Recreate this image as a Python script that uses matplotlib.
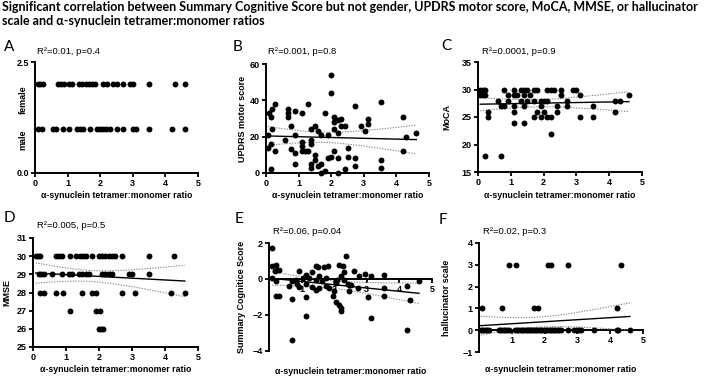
import numpy as np
import matplotlib

matplotlib.use("Agg")
import matplotlib.pyplot as plt

W, H = 705, 378
ARIAL = "Liberation Sans"
TITLE_FONT = ["Lato", "DejaVu Sans"]
XLABEL = "α-synuclein tetramer:monomer ratio"

plt.rcParams["font.family"] = [ARIAL, "DejaVu Sans"]
plt.rcParams["font.weight"] = "bold"
plt.rcParams["axes.labelweight"] = "bold"

# A: gender (female = 2, male = 1)
a_female_x = [0.1, 0.15, 0.25, 0.7, 0.8, 0.9, 1.05, 1.15, 1.35, 1.45, 1.55, 1.65, 1.75, 1.85,
              2.1, 2.2, 2.4, 2.5, 2.7, 2.9, 3.0, 3.5, 4.3, 4.6]
a_male_x = [0.1, 0.2, 0.55, 0.65, 0.85, 1.05, 1.28, 1.38, 1.48, 1.68, 1.89, 1.99, 2.09, 2.19,
            2.3, 2.5, 2.7, 3.0, 3.1, 3.5, 4.2, 4.6]

# B: UPDRS motor score
b_x = [0.08, 0.18, 0.29, 0.16, 0.18, 0.06, 0.06, 0.16, 0.29, 0.16, 0.57, 0.66, 0.66, 0.66,
       0.78, 0.78, 0.88, 0.88, 0.88, 0.88, 1.1, 1.1, 1.1, 1.1, 1.19, 1.29, 1.29, 1.39, 1.39,
       1.39, 1.39, 1.39, 1.49, 1.49, 1.49, 1.6, 1.6, 1.7, 1.7, 1.7, 1.8, 1.8, 1.9, 1.9, 2.0,
       2.0, 2.0, 2.1, 2.1, 2.1, 2.1, 2.2, 2.2, 2.2, 2.2, 2.31, 2.31, 2.41, 2.41, 2.52, 2.52,
       2.72, 2.72, 2.72, 2.92, 3.03, 3.13, 3.13, 3.54, 3.54, 3.54, 4.2, 4.2, 4.3, 4.61]
b_y = [33, 35, 38, 31, 24, 21, 14, 16, 12, 2, 18, 35, 33, 31,
       13, 26, 34, 21, 11, 5, 33, 17, 15, 12, 12, 12, 38, 24, 18,
       16, 5, 3, 26, 10, 7, 23, 4, 21, 5, 0, 1, 33, 21, 8, 54,
       44, 9, 31, 28, 24, 12, 29, 22, 8, 0, 30, 26, 26, 2, 14, 9,
       37, 8, 4, 26, 23, 30, 27, 39, 7, 3, 31, 12, 20, 22]

# C: MoCA
c_x = [0.07, 0.15, 0.22, 0.79, 1.1, 1.3, 1.4, 1.5, 1.71, 1.81, 2.11, 2.22, 2.32, 2.52, 2.9, 3.0,
       0.07, 0.15, 0.22, 0.91, 1.1, 1.2, 1.4, 1.6, 2.52, 3.1, 4.6,
       0.61, 0.91, 1.3, 1.5, 1.71, 1.91, 2.01, 2.11, 2.72, 4.19, 4.32,
       0.71, 0.79, 1.1, 1.4, 1.91, 2.42, 2.72, 3.5,
       0.3, 1.1, 1.81, 2.01, 2.42, 4.19,
       0.3, 1.71, 1.91, 2.11, 2.22, 3.1, 3.5,
       1.1, 1.4, 2.22, 0.2, 0.71]
c_y = [30] * 16 + [29] * 11 + [28] * 11 + [27] * 8 + [26] * 6 + [25] * 7 + [24, 24, 22, 18, 18]

# D: MMSE
d_x = [0.08, 0.15, 0.22, 0.69, 0.79, 0.89, 1.11, 1.31, 1.41, 1.52, 1.62, 1.79, 1.99, 2.09,
       2.19, 2.29, 2.39, 2.49, 2.7, 3.5, 4.27,
       0.18, 0.25, 0.32, 0.59, 0.89, 1.09, 1.19, 1.39, 1.49, 1.6, 1.7, 2.09, 2.19, 2.29, 2.39,
       2.9, 3.0, 3.5,
       0.22, 0.32, 0.69, 0.91, 1.49, 1.8, 1.9, 2.7, 3.1, 4.19, 4.6,
       1.11, 1.9, 2.02,
       1.99, 2.05, 2.12]
d_y = [30] * 21 + [29] * 18 + [28] * 11 + [27] * 3 + [26] * 3

# E: Summary Cognitive Score
e_x = [0.09, 0.1, 0.21, 0.17, 0.26, 0.31, 0.1, 0.21, 0.21, 0.31, 0.62, 0.72, 0.72, 0.72,
       0.82, 0.92, 0.92, 0.87, 1.03, 1.13, 1.13, 1.13, 1.13, 1.23, 1.33, 1.33, 1.44, 1.44,
       1.44, 1.49, 1.54, 1.54, 1.64, 1.69, 1.75, 1.75, 1.8, 1.85, 1.95, 2.0, 2.05, 2.05,
       2.1, 2.16, 2.16, 2.21, 2.21, 2.21, 2.26, 2.31, 2.31, 2.36, 2.41, 2.46, 2.46, 2.52,
       2.62, 2.77, 2.72, 2.93, 3.03, 3.13, 3.13, 3.54, 3.54, 3.54, 4.24, 4.24, 4.34, 4.6]
e_y = [1.73, 0.7, 0.8, 0.43, 0.52, 0.52, 0.05, -0.09, -0.93, -0.97, -0.41, -0.13, -1.12, -3.38,
       -0.07, 0.46, -0.46, -0.28, 0.05, 0.24, -0.28, -1.02, -2.08, 0.05, 0.37, -0.46, 0.7, -0.04,
       -0.59, 0.65, 0.19, -0.5, -0.13, 0.65, 0.05, -0.41, 0.7, -0.5, -0.93, -0.69, -0.22, -1.25,
       -0.04, 0.8, -1.43, 0.19, -1.62, -1.77, 0.74, 0.37, -0.07, 1.26, -0.28, -0.32, -0.69, -0.32,
       0.43, 0.19, -0.52, 0.28, -1.02, 0.19, -2.17, 0.24, -0.5, -0.93, -0.37, -2.83, -1.15, -0.1]

# F: hallucinator scale (zeros overlap heavily along the baseline)
f_x = [0.91, 1.12, 2.09, 2.19, 2.7, 4.33,
       0.1, 0.7, 1.68, 1.8, 4.21,
       0.05, 0.1, 0.15, 0.2, 0.25, 0.3, 0.6, 0.65, 0.7, 0.75, 0.8, 0.85, 0.9, 1.1, 1.15, 1.2,
       1.25, 1.3, 1.35, 1.4, 1.45, 1.5, 1.55, 1.6, 1.65, 1.7, 1.75, 1.8, 1.85, 1.9, 1.95, 2.0,
       2.05, 2.1, 2.15, 2.2, 2.25, 2.3, 2.35, 2.4, 2.45, 2.5, 2.7, 2.9, 3.0, 3.05, 3.1, 3.5,
       4.2, 4.25, 4.6]
f_y = [3] * 6 + [1] * 5 + [0] * 51

STATS = {"A": "R²=0.01, p=0.4", "B": "R²=0.001, p=0.8", "C": "R²=0.0001, p=0.9",
         "D": "R²=0.005, p=0.5", "E": "R²=0.06, p=0.04", "F": "R²=0.02, p=0.3"}
T95 = 1.99


def add_ax(fig, l, t, r, b):
    return fig.add_axes([l / W, 1 - b / H, (r - l) / W, (b - t) / H])


def style(ax):
    for s in ("top", "right"):
        ax.spines[s].set_visible(False)
    for s in ("left", "bottom"):
        ax.spines[s].set_linewidth(1.4)
    ax.tick_params(direction="out", length=3, width=1.3, pad=1.5, labelsize=6.5)


def regression(ax, x, y):
    x, y = np.asarray(x, float), np.asarray(y, float)
    n = len(x)
    slope, icpt = np.polyfit(x, y, 1)
    xs = np.linspace(x.min(), x.max(), 100)
    yhat = icpt + slope * xs
    s = np.sqrt(np.sum((y - (icpt + slope * x)) ** 2) / (n - 2))
    se = s * np.sqrt(1 / n + (xs - x.mean()) ** 2 / np.sum((x - x.mean()) ** 2))
    ax.plot(xs, yhat, color="black", lw=1.0, zorder=3)
    for band in (yhat + T95 * se, yhat - T95 * se):
        ax.plot(xs, band, color="#8a8a8a", lw=0.8, ls=(0, (1.2, 1.2)), zorder=3)


def scatter(ax, x, y):
    ax.scatter(x, y, s=18, color="black", linewidths=0, zorder=4, clip_on=False)


def labels(fig, ax, ylabel, ydx, xlabel_y):
    bb = ax.get_position()
    w_px = bb.width * W
    if ylabel:
        ax.set_ylabel(ylabel, fontsize=6.5)
        ax.yaxis.set_label_coords(-ydx / w_px, 0.5)
    cx = bb.x0 + bb.width / 2
    fig.text(cx, 1 - xlabel_y / H, XLABEL, ha="center", va="center", fontsize=6.3)


fig = plt.figure(figsize=(W / 100, H / 100), dpi=100)

fig.text(2 / W, 1 - 1 / H,
         "Significant correlation between Summary Cognitive Score but not gender, UPDRS motor score, MoCA, MMSE, or hallucinator\n"
         "scale and α-synuclein tetramer:monomer ratios",
         ha="left", va="top", fontsize=9.0, fontweight="bold", family=TITLE_FONT, linespacing=1.2)

# panel A
axA = add_ax(fig, 35, 62, 198, 173)
scatter(axA, a_female_x, [2] * len(a_female_x))
scatter(axA, a_male_x, [1] * len(a_male_x))
axA.set_xlim(0, 5)
axA.set_ylim(0, 2.5)
axA.set_yticks([0, 2.5], ["0.0", "2.5"])
axA.set_xticks(range(6))
style(axA)
for txt, yf in (("female", 0.66), ("male", 0.3)):
    axA.text(-12 / 163, yf, txt, transform=axA.transAxes, rotation=90, ha="center", va="center",
             fontsize=6.5)
labels(fig, axA, None, 0, 196)

# panel B
axB = add_ax(fig, 266, 64, 429, 173)
scatter(axB, b_x, b_y)
regression(axB, b_x, b_y)
axB.set_xlim(0, 5)
axB.set_ylim(0, 60)
axB.set_yticks([0, 20, 40, 60])
axB.set_xticks(range(6))
style(axB)
labels(fig, axB, "UPDRS motor score", 19, 196)

# panel C
axC = add_ax(fig, 478, 62, 642, 172)
scatter(axC, c_x, c_y)
regression(axC, c_x, c_y)
axC.set_xlim(0, 5)
axC.set_ylim(15, 35)
axC.set_yticks([15, 20, 25, 30, 35])
axC.set_xticks(range(6))
style(axC)
labels(fig, axC, "MoCA", 27, 196)

# panel D
axD = add_ax(fig, 33, 238, 198, 347)
scatter(axD, d_x, d_y)
regression(axD, d_x, d_y)
axD.set_xlim(0, 5)
axD.set_ylim(25, 31)
axD.set_yticks(range(25, 32))
axD.set_xticks(range(6))
style(axD)
labels(fig, axD, "MMSE", 22, 369)

# panel E
axE = add_ax(fig, 269, 243, 432, 351)
scatter(axE, e_x, e_y)
regression(axE, e_x, e_y)
axE.set_xlim(0, 5)
axE.set_ylim(-4, 2)
axE.set_yticks([-4, -2, 0, 2])
axE.set_xticks(range(1, 6))
axE.spines["bottom"].set_position(("data", 0))
style(axE)
labels(fig, axE, "Summary Cognitice Score", 23, 371)

# panel F
axF = add_ax(fig, 479, 243, 643, 352)
scatter(axF, f_x, f_y)
regression(axF, f_x, f_y)
axF.set_xlim(0, 5)
axF.set_ylim(-1, 4)
axF.set_yticks(range(-1, 5))
axF.set_xticks(range(1, 6))
axF.spines["bottom"].set_position(("data", 0))
style(axF)
labels(fig, axF, "hallucinator scale", 28, 370)

# panel letters and statistics
for key, (lx, ly), (sx, sy) in (("A", (4, 47), (37, 52)), ("B", (233, 47), (268, 52)),
                                 ("C", (441, 46), (482, 52)), ("D", (4, 218), (37, 225)),
                                 ("E", (235, 219), (273, 232)), ("F", (439, 220), (483, 232))):
    fig.text(lx / W, 1 - ly / H, key, ha="left", va="center", fontsize=11,
             fontweight="normal", family=TITLE_FONT)
    fig.text(sx / W, 1 - sy / H, STATS[key], ha="left", va="center", fontsize=6.8,
             fontweight="normal")

fig.savefig("out.png", dpi=100)
